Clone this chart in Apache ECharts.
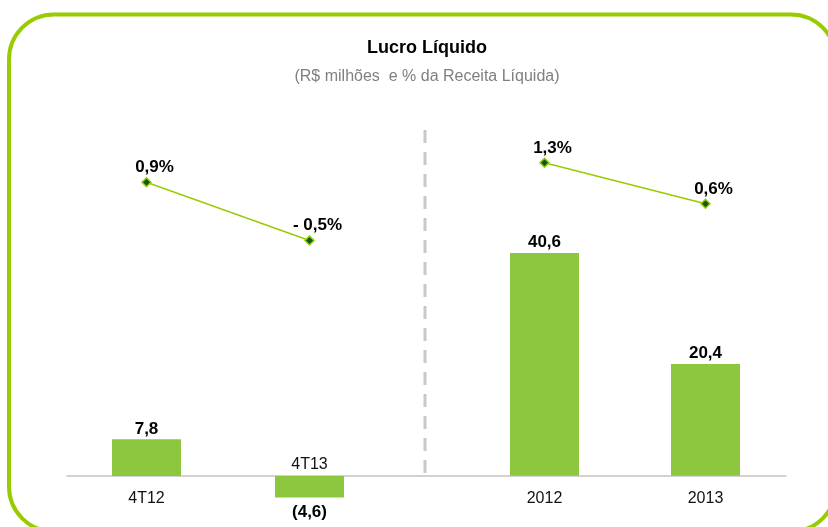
<!DOCTYPE html>
<html>
<head>
<meta charset="utf-8">
<script src="https://cdn.jsdelivr.net/npm/echarts@6/dist/echarts.min.js"></script>
<style>html,body{margin:0;padding:0;background:#fff;}#c{width:828px;height:527px;}</style>
</head>
<body>
<div id="c"></div>
<script>
// Data
var quarterCategories = ['4T12', '4T13'];
var quarterProfit = [7.8, -4.6];
var quarterMargin = [0.9, -0.5];
var yearCategories = ['2012', '2013'];
var yearProfit = [40.6, 20.4];
var yearMargin = [1.3, 0.6];
var titleText = 'Lucro Líquido';
var subtitleText = '(R$ milhões  e % da Receita Líquida)';

var FONT = '"Liberation Sans", Arial, sans-serif';
var BAR_COLOR = '#8dc63f';
var LINE_COLOR = '#99cc00';

function fmtNum(v) {
  var s = Math.abs(v).toFixed(1).replace('.', ',');
  return v < 0 ? '(' + s + ')' : s;
}
function fmtPct(v) {
  var s = Math.abs(v).toFixed(1).replace('.', ',') + '%';
  return v < 0 ? '- ' + s : s;
}
function barData(vals) {
  return vals.map(function (v) {
    return { value: v, label: { position: v < 0 ? 'bottom' : 'top', distance: v < 0 ? 6 : 2 } };
  });
}
// category names drawn on the zero line: below for positive bars, above for negative ones
function catLabelData(cats, vals) {
  return cats.map(function (c, i) {
    var neg = vals[i] < 0;
    return { value: 0, name: c, label: { position: neg ? 'top' : 'bottom', distance: neg ? 3 : 15 } };
  });
}

var chart = echarts.init(document.getElementById('c'), null, { renderer: 'canvas' });

var valueLabel = {
  show: true, color: '#000', fontFamily: FONT, fontWeight: 'bold', fontSize: 17,
  formatter: function (p) { return fmtNum(p.value); }
};
var pctLabel = {
  show: true, position: 'top', color: '#000', fontFamily: FONT, fontWeight: 'bold', fontSize: 17,
  distance: 1, offset: [8, 0],
  formatter: function (p) { return fmtPct(p.value); }
};
var catLabel = {
  show: true, color: '#111', fontFamily: FONT, fontSize: 16,
  formatter: function (p) { return p.name; }
};
var lineStyleCfg = { color: LINE_COLOR, width: 1.5 };
var itemStyleCfg = { color: '#0b5a1e', borderColor: LINE_COLOR, borderWidth: 1.5 };

function catAxis(gridIndex, cats) {
  return {
    type: 'category', gridIndex: gridIndex, data: cats,
    axisLine: { show: false }, axisTick: { show: false }, axisLabel: { show: false }
  };
}

var option = {
  backgroundColor: '#ffffff',
  animation: false,
  title: [
    { text: titleText, left: 422, top: 34, textAlign: 'center',
      textStyle: { fontFamily: FONT, fontWeight: 'bold', fontSize: 18, color: '#000' } },
    { text: subtitleText, left: 422, top: 64, textAlign: 'center',
      textStyle: { fontFamily: FONT, fontWeight: 'normal', fontSize: 16, color: '#7f7f7f' } }
  ],
  grid: [
    { left: 65, width: 326, top: 100, height: 423, outerBoundsMode: 'none', containLabel: false },
    { left: 464, width: 322, top: 100, height: 423, outerBoundsMode: 'none', containLabel: false },
    { left: 67, width: 719, top: 100, height: 376, outerBoundsMode: 'none', containLabel: false }
  ],
  xAxis: [
    catAxis(0, quarterCategories),
    catAxis(1, yearCategories),
    { type: 'category', gridIndex: 2, data: [], axisTick: { show: false }, axisLabel: { show: false },
      axisLine: { show: true, lineStyle: { color: '#c4c4c4', width: 1.5 } } }
  ],
  yAxis: [
    { type: 'value', gridIndex: 0, min: -10, max: 80, show: false },
    { type: 'value', gridIndex: 0, min: -7.3, max: 2.88, show: false },
    { type: 'value', gridIndex: 1, min: -8.6, max: 68.5, show: false },
    { type: 'value', gridIndex: 1, min: -4.85, max: 2.372, show: false },
    { type: 'value', gridIndex: 2, min: 0, max: 1, show: false }
  ],
  series: [
    { type: 'bar', xAxisIndex: 0, yAxisIndex: 0, data: barData(quarterProfit), barWidth: 69,
      itemStyle: { color: BAR_COLOR }, label: valueLabel },
    { type: 'scatter', xAxisIndex: 0, yAxisIndex: 0, data: catLabelData(quarterCategories, quarterProfit),
      symbolSize: 0, silent: true, itemStyle: { opacity: 1 }, label: catLabel },
    { type: 'line', xAxisIndex: 0, yAxisIndex: 1, data: quarterMargin, symbol: 'diamond', symbolSize: 9,
      lineStyle: lineStyleCfg, itemStyle: itemStyleCfg, label: pctLabel },
    { type: 'bar', xAxisIndex: 1, yAxisIndex: 2, data: barData(yearProfit), barWidth: 69,
      itemStyle: { color: BAR_COLOR }, label: valueLabel },
    { type: 'scatter', xAxisIndex: 1, yAxisIndex: 2, data: catLabelData(yearCategories, yearProfit),
      symbolSize: 0, silent: true, itemStyle: { opacity: 1 }, label: catLabel },
    { type: 'line', xAxisIndex: 1, yAxisIndex: 3, data: yearMargin, symbol: 'diamond', symbolSize: 9,
      lineStyle: lineStyleCfg, itemStyle: itemStyleCfg, label: pctLabel }
  ],
  graphic: [
    { type: 'rect', silent: true, z: -1,
      shape: { x: 9, y: 14.5, width: 827, height: 517, r: 45 },
      style: { fill: 'none', stroke: LINE_COLOR, lineWidth: 4 } },
    { type: 'line', silent: true,
      shape: { x1: 425, y1: 130, x2: 425, y2: 475 },
      style: { stroke: '#c8c8c8', lineWidth: 3, lineDash: [13, 9] } }
  ]
};
chart.setOption(option);
</script>
</body>
</html>
